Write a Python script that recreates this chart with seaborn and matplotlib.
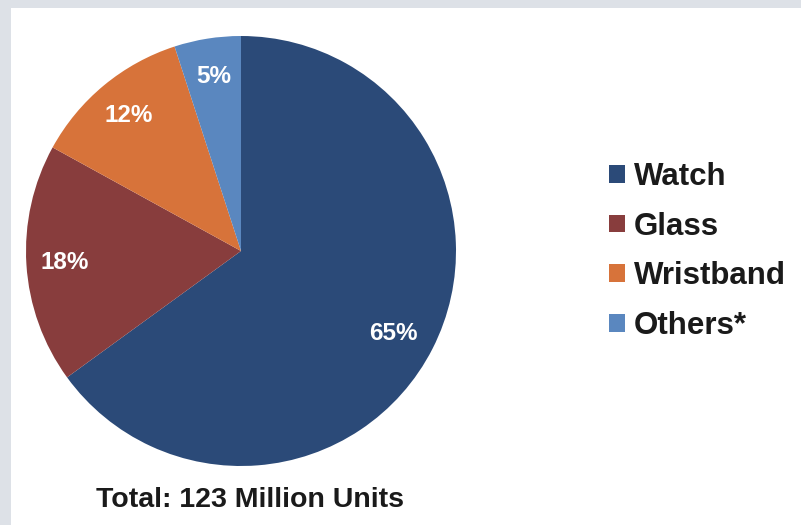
import matplotlib
matplotlib.use("Agg")
import matplotlib.pyplot as plt
from matplotlib.patches import Rectangle, Patch
import seaborn as sns

categories = ["Watch", "Glass", "Wristband", "Others*"]
shares = [65, 18, 12, 5]
colors_hex = ["#2b4a78", "#883d3d", "#d7733a", "#5a87bf"]
title_text = "Total: 123 Million Units"

sns.set_theme(style="white")
plt.rcParams["font.family"] = ["Liberation Sans", "DejaVu Sans"]
palette = sns.color_palette(colors_hex)

W, H = 801, 525
fig = plt.figure(figsize=(W / 100, H / 100), dpi=100)
fig.patch.set_facecolor("#dde1e7")
fig.patches.append(Rectangle((11 / W, 0), 1, (H - 8) / H, transform=fig.transFigure,
                             facecolor="white", edgecolor="none", zorder=-5))

cx, cy, R = 241, 251, 215
ax = fig.add_axes([(cx - R) / W, (H - cy - R) / H, 2 * R / W, 2 * R / H])
ax.set_zorder(2)
ax.set_facecolor("none")
wedges, texts, autotexts = ax.pie(
    shares, colors=palette, startangle=90, counterclock=False,
    autopct="%d%%", pctdistance=0.82,
    wedgeprops=dict(linewidth=0),
    textprops=dict(color="white", fontsize=17.5, fontweight="bold"))
# main slice label sits slightly closer to the centre
x0, y0 = autotexts[0].get_position()
autotexts[0].set_position((x0 * 0.97, y0 * 1.03))
ax.set_xlim(-1.0, 1.0)
ax.set_ylim(-1.0, 1.0)
ax.set_aspect("equal")
ax.axis("off")
for w in wedges:
    w.set_clip_on(False)

fig.text(250 / W, 1 - 500 / H, title_text, ha="center", va="center",
         fontsize=20.5, fontweight="bold", color="#1a1a1a", zorder=3)

handles = [Patch(facecolor=c, edgecolor="none") for c in palette]
leg = fig.legend(handles, categories, loc="upper left",
                 bbox_to_anchor=(609 / W, 1 - 162 / H), frameon=False,
                 prop=dict(size=22.5, weight="bold"),
                 handlelength=0.5, handleheight=0.5, handletextpad=0.3,
                 labelspacing=0.63, borderaxespad=0, borderpad=0)
leg.set_zorder(3)
for t in leg.get_texts():
    t.set_color("#1a1a1a")

fig.savefig("out.png", dpi=100, facecolor=fig.get_facecolor())
